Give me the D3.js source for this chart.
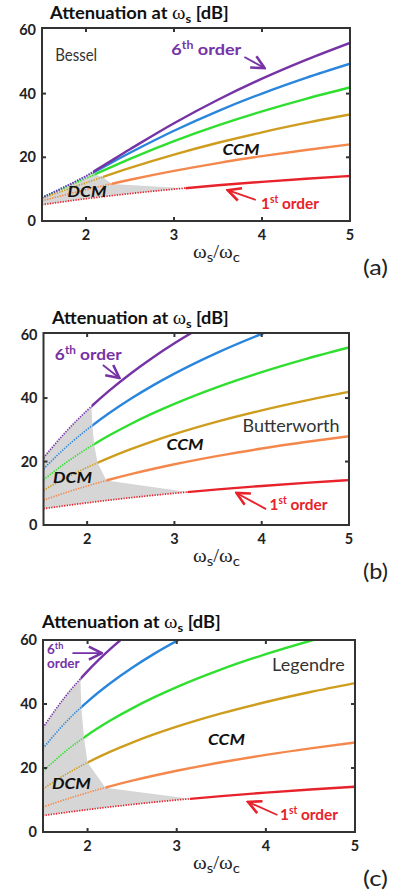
<!DOCTYPE html>
<html>
<head>
<meta charset="utf-8">
<script src="https://cdn.jsdelivr.net/npm/d3@7"></script>
<style>
  body { margin: 0; background: #fff; }
  svg text { font-family: Lato, "Open Sans", sans-serif; }
</style>
</head>
<body>
<div id="wrapper"></div>
<script>
// colours for 1st .. 6th order
const orderColors = ["#e8222a", "#f4884c", "#cf9d1e", "#2fdf2f", "#2a86dc", "#7633a6"]
const xTicks = [2, 3, 4, 5]
const yTicks = [0, 20, 40, 60]

// Bessel (a)
const besselX = [1.5, 2, 2.5, 3, 3.5, 4, 4.5, 5]
const besselY = [
  [5.12, 6.99, 8.60, 10.0, 11.22, 12.30, 13.27, 14.15],
  [6.36, 9.82, 12.96, 15.74, 18.19, 20.36, 22.31, 24.07],
  [7.12, 12.0, 16.68, 20.86, 24.56, 27.85, 30.79, 33.44],
  [7.42, 13.40, 19.52, 25.09, 30.04, 34.43, 38.37, 41.92],
  [7.41, 14.06, 21.43, 28.34, 34.52, 40.02, 44.94, 49.39],
  [7.29, 14.17, 22.54, 30.70, 38.08, 44.68, 50.59, 55.93],
]
const besselSwitch = [3.13, 2.29, 2.19, 2.1, 2.08, 2.08]

// Butterworth (b)
const butterX = [1.5, 1.75, 2, 2.25, 2.5, 2.75, 3, 3.5, 4, 4.5, 5]
const butterY = [
  [5.12, 6.09, 6.99, 7.83, 8.60, 9.33, 10.0, 11.22, 12.30, 13.27, 14.15],
  [7.83, 10.16, 12.30, 14.25, 16.03, 17.65, 19.14, 21.79, 24.10, 26.14, 27.97],
  [10.93, 14.73, 18.13, 21.16, 23.89, 26.37, 28.63, 32.65, 36.12, 39.19, 41.94],
  [14.25, 19.49, 24.10, 28.18, 31.84, 35.15, 38.17, 43.53, 48.16, 52.26, 55.92],
  [17.68, 24.32, 30.11, 35.22, 39.79, 43.93, 47.71, 54.41, 60.21, 65.32, 69.90],
  [21.16, 29.17, 36.12, 42.26, 47.75, 52.72, 57.25, 65.29, 72.25, 78.39, 83.88],
]
const butterSwitch = [3.15, 2.22, 2.12, 2.08, 2.06, 2.05]

// Legendre (c)
const legendreX = [1.5, 1.75, 2, 2.25, 2.5, 2.75, 3, 3.5, 4, 4.5, 5]
const legendreY = [
  [5.12, 6.09, 6.99, 7.83, 8.60, 9.33, 10.0, 11.22, 12.30, 13.27, 14.15],
  [7.83, 10.16, 12.30, 14.25, 16.03, 17.65, 19.14, 21.79, 24.10, 26.14, 27.97],
  [13.47, 17.93, 21.73, 25.03, 27.94, 30.55, 32.91, 37.06, 40.62, 43.75, 46.53],
  [18.97, 25.15, 30.31, 34.74, 38.64, 42.13, 45.29, 50.82, 55.58, 59.75, 63.46],
  [26.13, 34.15, 40.76, 46.40, 51.34, 55.75, 59.72, 66.69, 72.66, 77.9, 82.6],
  [32.63, 42.32, 50.27, 57.05, 62.98, 68.27, 73.04, 81.4, 88.6, 94.9, 100.4],
]
const legendreSwitch = [3.15, 2.2, 2.0, 1.96, 1.93, 1.92]

const panels = [
  {
    id: "a", name: "Bessel", xs: besselX, ys: besselY, sw: besselSwitch,
    left: 42, right: 350, top: 28, bottom: 221, yMax: 60.6,
    titleX: 50, titleDy: -9, titleW: 180,
    nameAt: [1.65, 50.2], nameW: 42,
    sixth: { lines: ["6|th| order"], at: [2.97, 52.1], size: 16, w: 70, arrow: [[3.80, 51.5], [4.03, 48.0]] },
    ccm: [3.55, 20.7], dcm: [1.79, 7.5],
    first: { at: [3.99, 3.8], arrow: [[3.93, 6.6], [3.61, 9.7]] },
  },
  {
    id: "b", name: "Butterworth", xs: butterX, ys: butterY, sw: butterSwitch,
    left: 43.5, right: 349, top: 333, bottom: 525, yMax: 60.5,
    titleX: 52, titleDy: -9, titleW: 178,
    nameAt: [3.78, 29.3], nameW: 97,
    sixth: { lines: ["6|th| order"], at: [1.63, 52.0], size: 16, w: 67, arrow: [[2.18, 50.4], [2.37, 46.3]] },
    ccm: [2.91, 23.6], dcm: [1.61, 13.2],
    first: { at: [4.09, 4.7], arrow: [[4.05, 5.0], [3.71, 10.1]] },
  },
  {
    id: "c", name: "Legendre", xs: legendreX, ys: legendreY, sw: legendreSwitch,
    left: 43, right: 355, top: 640, bottom: 832, yMax: 60,
    titleX: 42, titleDy: -12, titleW: 180,
    nameAt: [4.07, 50.3], nameW: 73,
    sixth: { lines: ["6|th|", "order"], at: [1.545, 55.6], size: 12.5, w: 33, arrow: [[1.83, 55.9], [2.16, 55.9]] },
    ccm: [3.35, 27.2], dcm: [1.60, 13.4],
    first: { at: [4.16, 3.75], arrow: [[4.13, 5.3], [3.80, 9.4]] },
  },
]

const svg = d3.select("#wrapper").append("svg")
  .attr("width", 393)
  .attr("height", 895)

const defs = svg.append("defs")

// small open arrow heads
orderColors.forEach((c, i) => {
  defs.append("marker")
      .attr("id", `head-${i}`)
      .attr("viewBox", "0 0 10 10")
      .attr("refX", 9).attr("refY", 5)
      .attr("markerWidth", 9).attr("markerHeight", 9)
      .attr("orient", "auto")
    .append("path")
      .attr("d", "M1,1 L9,5 L1,9")
      .attr("fill", "none")
      .attr("stroke", c)
      .attr("stroke-width", 1.6)
})

// linear lookup used only to find where the gray boundary meets a curve
function valueAt(xs, ys, t) {
  const i = Math.max(1, d3.bisectLeft(xs, t))
  const f = (t - xs[i - 1]) / (xs[i] - xs[i - 1])
  return ys[i - 1] + f * (ys[i] - ys[i - 1])
}

// squeeze a text horizontally about its anchor (the figure uses a narrow face)
function fitWidth(sel, w) {
  const k = w / sel.node().getBBox().width
  const x0 = +sel.attr("x")
  sel.attr("transform", `translate(${x0},0) scale(${k},1) translate(${-x0},0)`)
}

function drawPanel(p) {
  const x = d3.scaleLinear().domain([1.5, 5]).range([p.left, p.right])
  const y = d3.scaleLinear().domain([0, p.yMax]).range([p.bottom, p.top])
  const g = svg.append("g")

  defs.append("clipPath").attr("id", `plot-${p.id}`)
    .append("rect")
      .attr("x", p.left).attr("y", p.top)
      .attr("width", p.right - p.left).attr("height", p.bottom - p.top)

  // DCM region boundary through the switch points
  const bound = [[x(1.5), p.bottom + 5], [x(p.sw[0]), p.bottom + 5]]
  p.sw.forEach((t, k) => bound.push([x(t), y(valueAt(p.xs, p.ys[k], t))]))
  bound.push([x(p.sw[5]), p.top - 5], [x(1.5), p.top - 5])
  defs.append("clipPath").attr("id", `dcm-${p.id}`)
    .append("path").attr("d", "M" + bound.join("L") + "Z")

  const plot = g.append("g").attr("clip-path", `url(#plot-${p.id})`)

  const area = d3.area()
    .x(i => x(p.xs[i]))
    .y0(i => y(p.ys[0][i]))
    .y1(i => y(p.ys[5][i]))
    .curve(d3.curveMonotoneX)
  plot.append("g").attr("clip-path", `url(#dcm-${p.id})`)
    .append("path")
      .attr("d", area(d3.range(p.xs.length)))
      .attr("fill", "#d6d6d6")

  const line = d3.line()
    .x((d, i) => x(p.xs[i]))
    .y(d => y(d))
    .curve(d3.curveMonotoneX)

  p.ys.forEach((vals, k) => {
    const t = p.sw[k]
    defs.append("clipPath").attr("id", `lo-${p.id}-${k}`)
      .append("rect").attr("x", p.left - 2).attr("y", 0)
      .attr("width", x(t) - p.left + 2).attr("height", 895)
    defs.append("clipPath").attr("id", `hi-${p.id}-${k}`)
      .append("rect").attr("x", x(t)).attr("y", 0)
      .attr("width", p.right - x(t) + 2).attr("height", 895)

    plot.append("path")
        .attr("clip-path", `url(#lo-${p.id}-${k})`)
        .attr("d", line(vals))
        .attr("fill", "none")
        .attr("stroke", orderColors[k])
        .attr("stroke-width", 1.7)
        .attr("stroke-dasharray", "1.3,1.3")
    plot.append("path")
        .attr("clip-path", `url(#hi-${p.id}-${k})`)
        .attr("d", line(vals))
        .attr("fill", "none")
        .attr("stroke", orderColors[k])
        .attr("stroke-width", 2.4)
  })

  // frame + inward ticks on all sides
  g.append("rect")
      .attr("x", p.left).attr("y", p.top)
      .attr("width", p.right - p.left).attr("height", p.bottom - p.top)
      .attr("fill", "none").attr("stroke", "#333").attr("stroke-width", 2)

  const tk = 4
  xTicks.filter(v => v < 5).forEach(v => {
    g.append("line").attr("x1", x(v)).attr("x2", x(v))
      .attr("y1", p.bottom).attr("y2", p.bottom - tk).attr("stroke", "#333").attr("stroke-width", 2)
    g.append("line").attr("x1", x(v)).attr("x2", x(v))
      .attr("y1", p.top).attr("y2", p.top + tk).attr("stroke", "#333").attr("stroke-width", 2)
  })
  yTicks.filter(v => v > 0 && v < 60).forEach(v => {
    g.append("line").attr("x1", p.left).attr("x2", p.left + tk)
      .attr("y1", y(v)).attr("y2", y(v)).attr("stroke", "#333").attr("stroke-width", 2)
    g.append("line").attr("x1", p.right).attr("x2", p.right - tk)
      .attr("y1", y(v)).attr("y2", y(v)).attr("stroke", "#333").attr("stroke-width", 2)
  })

  g.selectAll(".xlab").data(xTicks).join("text")
      .attr("x", d => x(d)).attr("y", p.bottom + 19)
      .attr("text-anchor", "middle")
      .attr("font-size", 14.5).attr("font-weight", 700).attr("fill", "#222")
      .text(d => d)
  g.selectAll(".ylab").data(yTicks).join("text")
      .attr("x", p.left - 6).attr("y", d => y(d) + 5)
      .attr("text-anchor", "end")
      .attr("font-size", 14.5).attr("font-weight", 700).attr("fill", "#222")
      .text(d => d)

  // title
  const title = g.append("text")
      .attr("x", p.titleX).attr("y", p.top + p.titleDy)
      .attr("font-size", 17).attr("font-weight", 700).attr("fill", "#111")
  title.append("tspan").text("Attenuation at ")
  title.append("tspan").attr("font-family", "Liberation Serif").attr("font-weight", 400).attr("font-size", 19).text("ω")
  title.append("tspan").attr("font-size", 12).attr("dy", 4).text("s")
  title.append("tspan").attr("dy", -4).text(" [dB]")
  fitWidth(title, p.titleW)

  // x axis label
  const xl = g.append("text")
      .attr("x", 193).attr("y", p.bottom + 37)
      .attr("font-size", 18).attr("fill", "#222")
  xl.append("tspan").attr("font-family", "Liberation Serif").text("ω")
  xl.append("tspan").attr("font-size", 13).attr("dy", 4).text("s")
  xl.append("tspan").attr("dy", -4).attr("font-family", "Liberation Serif").text("/ω")
  xl.append("tspan").attr("font-size", 13).attr("dy", 4).text("c")
  fitWidth(xl, 47)

  const letter = g.append("text")
      .attr("x", 363).attr("y", p.bottom + 54)
      .attr("font-size", 21).attr("fill", "#222")
      .text(`(${p.id})`)
  fitWidth(letter, 25)

  // annotations
  const name = g.append("text")
      .attr("x", x(p.nameAt[0])).attr("y", y(p.nameAt[1]))
      .attr("font-size", 16.5).attr("fill", "#333")
      .text(p.name)
  fitWidth(name, p.nameW)

  ;[["CCM", p.ccm], ["DCM", p.dcm]].forEach(([s, at]) => {
    const t = g.append("text")
        .attr("x", x(at[0])).attr("y", y(at[1]))
        .attr("font-size", 16).attr("font-weight", 700).attr("font-style", "italic")
        .attr("fill", "#111")
        .text(s)
    fitWidth(t, s === "CCM" ? 37 : 39)
  })

  const sixth = g.append("text")
      .attr("x", x(p.sixth.at[0])).attr("y", y(p.sixth.at[1]))
      .attr("font-size", p.sixth.size).attr("font-weight", 700).attr("fill", orderColors[5])
  p.sixth.lines.forEach((ln, li) => {
    const parts = ln.split("|")
    if (li > 0) sixth.append("tspan").attr("x", x(p.sixth.at[0])).attr("dy", p.sixth.size * 1.55).text(parts[0])
    else sixth.append("tspan").text(parts[0])
    if (parts.length > 1) {
      sixth.append("tspan").attr("font-size", p.sixth.size * 0.68).attr("dy", -p.sixth.size * 0.4).text(parts[1])
      sixth.append("tspan").attr("dy", p.sixth.size * 0.4).text(parts[2])
    }
  })
  fitWidth(sixth, p.sixth.w)
  g.append("line")
      .attr("x1", x(p.sixth.arrow[0][0])).attr("y1", y(p.sixth.arrow[0][1]))
      .attr("x2", x(p.sixth.arrow[1][0])).attr("y2", y(p.sixth.arrow[1][1]))
      .attr("stroke", orderColors[5]).attr("stroke-width", 1.8)
      .attr("marker-end", "url(#head-5)")

  const first = g.append("text")
      .attr("x", x(p.first.at[0])).attr("y", y(p.first.at[1]))
      .attr("font-size", 16).attr("font-weight", 700).attr("fill", orderColors[0])
  first.append("tspan").text("1")
  first.append("tspan").attr("font-size", 10.5).attr("dy", -6).text("st")
  first.append("tspan").attr("dy", 6).text(" order")
  fitWidth(first, 58)
  g.append("line")
      .attr("x1", x(p.first.arrow[0][0])).attr("y1", y(p.first.arrow[0][1]))
      .attr("x2", x(p.first.arrow[1][0])).attr("y2", y(p.first.arrow[1][1]))
      .attr("stroke", orderColors[0]).attr("stroke-width", 1.8)
      .attr("marker-end", "url(#head-0)")
}

panels.forEach(drawPanel)
</script>
</body>
</html>
